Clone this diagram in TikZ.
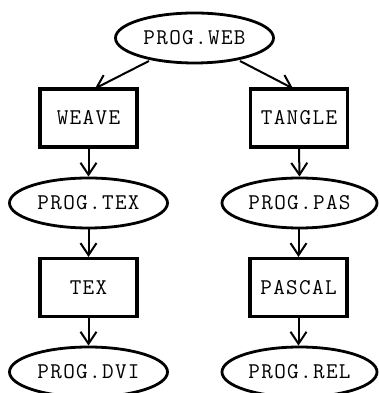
\documentclass[tikz,border=0pt]{standalone}
\usepackage{fontspec}
\newfontfamily\tyfont[LetterSpace=6]{Latin Modern Mono}
\usetikzlibrary{shapes.geometric,arrows.meta}
\begin{document}
\begin{tikzpicture}[x=1pt,y=1pt,
  file/.style={ellipse,draw,line width=2.8pt,inner sep=0pt,minimum height=50pt,font=\tyfont\fontsize{22.5}{24}\selectfont},
  prog/.style={rectangle,draw,line width=3.2pt,inner sep=0pt,minimum width=97pt,minimum height=58pt,font=\tyfont\fontsize{22.5}{24}\selectfont},
  flow/.style={line width=2pt,-{Straight Barb[length=12pt,width=16pt,line width=2pt]}}]
\useasboundingbox (0,0) rectangle (378,393);
\node[file,minimum width=158pt] (web) at (194.5,355) {PROG.WEB};
\node[prog] (weave) at (88.5,275) {WEAVE};
\node[prog] (tangle) at (299,275) {TANGLE};
\node[file,minimum width=158pt] (ptex) at (88.5,190) {PROG.TEX};
\node[file,minimum width=155pt] (ppas) at (299.5,190) {PROG.PAS};
\node[prog] (tex) at (88.5,105.5) {TEX};
\node[prog] (pascal) at (298.5,105.5) {PASCAL};
\node[file,minimum width=158pt] (pdvi) at (88.5,21) {PROG.DVI};
\node[file,minimum width=155pt] (prel) at (299.5,21) {PROG.REL};
\coordinate (wa) at (149,332);
\coordinate (wb) at (95,304.5);
\coordinate (ta) at (240,332);
\coordinate (tb) at (293,304.5);
\draw[flow] (wa) -- (wb);
\draw[flow] (ta) -- (tb);
\draw[flow] (weave.south) -- (ptex.north);
\draw[flow] (tangle.south) -- (ppas.north);
\draw[flow] (ptex.south) -- (tex.north);
\draw[flow] (ppas.south -| pascal.north) -- (pascal.north);
\draw[flow] (tex.south) -- (pdvi.north);
\draw[flow] (pascal.south) -- (pascal.south |- prel.north);
\end{tikzpicture}
\end{document}
